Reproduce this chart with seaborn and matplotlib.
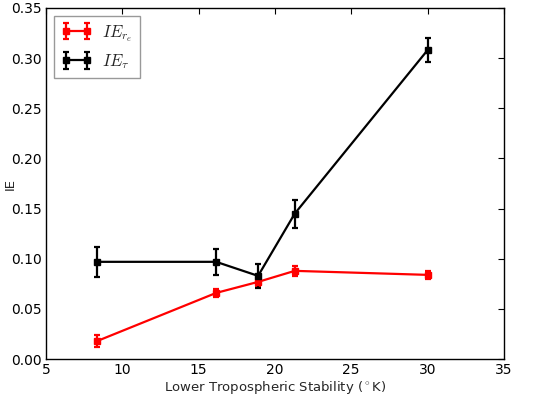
import numpy as np
import matplotlib
matplotlib.use("Agg")
import matplotlib.pyplot as plt
import seaborn as sns

# data
lts = [8.35, 16.15, 18.9, 21.3, 30.0]
ie_re = [0.018, 0.066, 0.077, 0.088, 0.084]
ie_re_err = [0.006, 0.004, 0.005, 0.005, 0.004]
ie_tau = [0.097, 0.097, 0.083, 0.145, 0.308]
ie_tau_err = [0.015, 0.013, 0.012, 0.014, 0.012]

sns.set_style("white")
plt.rcParams['font.family'] = ['DejaVu Sans']
plt.rcParams['mathtext.fontset'] = 'cm'

fig, ax = plt.subplots(figsize=(5.39, 3.96), dpi=100)
fig.subplots_adjust(left=0.085, right=0.935, top=0.98, bottom=0.093)

ax.errorbar(lts, ie_re, yerr=ie_re_err, fmt='s-', color='red', lw=1.6,
            ms=4.5, elinewidth=1.6, capsize=2.5, capthick=1.6,
            label=r'$IE_{r_e}$')
ax.errorbar(lts, ie_tau, yerr=ie_tau_err, fmt='s-', color='black', lw=1.6,
            ms=4.5, elinewidth=1.6, capsize=2.5, capthick=1.6,
            label=r'$IE_{\tau}$')

ax.set_xlim(5, 35)
ax.set_ylim(0, 0.35)
ax.set_xticks(np.arange(5, 36, 5))
ax.set_yticks(np.arange(0, 0.36, 0.05))
ax.set_yticklabels([f'{v:.2f}' for v in np.arange(0, 0.36, 0.05)])
ax.tick_params(direction='in', top=True, right=True, length=4, width=0.8,
               labelsize=10, colors='black', pad=3)
for s in ax.spines.values():
    s.set_color('black')
    s.set_linewidth(1.0)

ax.set_xlabel(r'Lower Tropospheric Stability ($^\circ$K)', fontsize=9.5, labelpad=1)
ax.set_ylabel('IE', fontsize=9.5)
ax.yaxis.set_label_coords(-0.064, 0.5)

leg = ax.legend(loc='upper left', fontsize=12, numpoints=2, frameon=True,
                fancybox=False, edgecolor='0.5', handlelength=1.9,
                borderpad=0.4, labelspacing=0.5, handletextpad=0.6)
leg.get_frame().set_linewidth(1.0)

fig.savefig('out.png', dpi=100)
